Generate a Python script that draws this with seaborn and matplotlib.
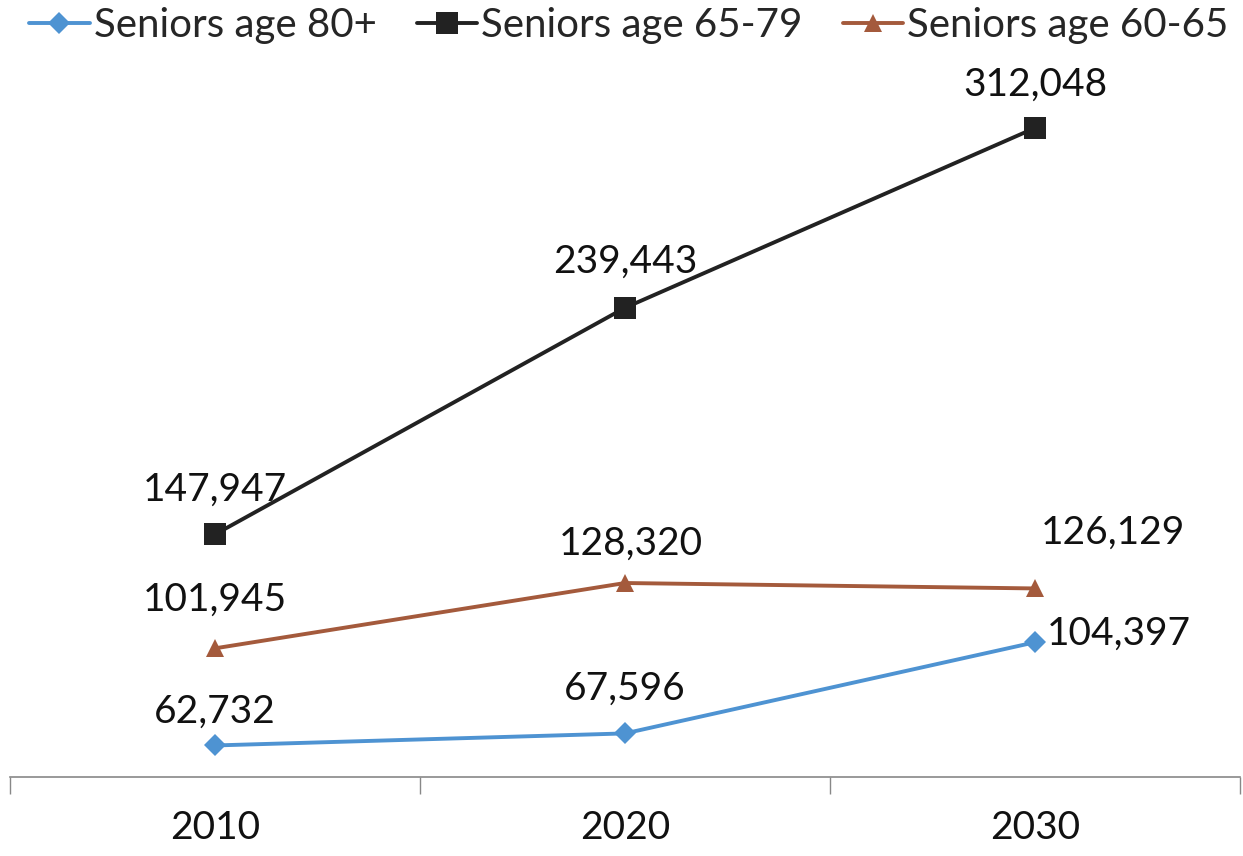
import matplotlib
matplotlib.use("Agg")
import matplotlib.pyplot as plt
import seaborn as sns
import pandas as pd

years = ["2010", "2020", "2030"]
series_names = ["Seniors age 80+", "Seniors age 65-79", "Seniors age 60-65"]
age80 = [62732, 67596, 104397]
age65_79 = [147947, 239443, 312048]
age60_65 = [101945, 128320, 126129]

sns.set_theme(style="white")
plt.rcParams['font.family'] = ['Lato', 'DejaVu Sans']

rows = []
for name, vals in zip(series_names, [age80, age65_79, age60_65]):
    for i, v in enumerate(vals):
        rows.append({"x": i, "year": years[i], "value": v, "series": name})
df = pd.DataFrame(rows)

colors = {"Seniors age 80+": "#4E93D2", "Seniors age 65-79": "#222222", "Seniors age 60-65": "#A45A3C"}
markers = {"Seniors age 80+": "D", "Seniors age 65-79": "s", "Seniors age 60-65": "^"}
msize = {"Seniors age 80+": 11, "Seniors age 65-79": 16, "Seniors age 60-65": 13}

fig = plt.figure(figsize=(12.43, 8.56), dpi=100)
ax = fig.add_axes([0.008, 0.0923, 0.9896, 0.868])

for name in series_names:
    sub = df[df.series == name]
    sns.lineplot(data=sub, x="x", y="value", ax=ax, color=colors[name],
                 marker=markers[name], markersize=msize[name], markeredgewidth=0,
                 linewidth=2.8, label=name)

# data labels: (dx, dy) offsets in points
offsets = {
    "Seniors age 80+": [(0, 24), (0, 32), (60, 6)],
    "Seniors age 65-79": [(0, 32), (0, 33), (0, 31)],
    "Seniors age 60-65": [(0, 35), (4, 28), (56, 40)],
}
for name in series_names:
    sub = df[df.series == name].reset_index(drop=True)
    for i, r in sub.iterrows():
        dx, dy = offsets[name][i]
        ax.annotate(f"{r['value']:,}", (r["x"], r["value"]), xytext=(dx, dy),
                    textcoords="offset points", ha="center", va="center",
                    fontsize=28, color="#111111")

ax.set_xlim(-0.5, 2.5)
ax.set_ylim(50000, 350000)
ax.set_xticks([0, 1, 2])
ax.set_xticklabels(years, fontsize=28, color="#111111")
ax.set_xticks([-0.5, 0.5, 1.5, 2.5], minor=True)
ax.tick_params(axis="x", which="major", length=0, pad=24)
ax.tick_params(axis="x", which="minor", length=12, width=1, color="#888888", direction="out", bottom=True)
ax.set_yticks([])
ax.set_xlabel("")
ax.set_ylabel("")
for s in ["top", "right", "left"]:
    ax.spines[s].set_visible(False)
ax.spines["bottom"].set_color("#888888")
ax.spines["bottom"].set_linewidth(1.2)

handles, labels = ax.get_legend_handles_labels()
ax.get_legend().remove()
fig.legend(handles, labels, loc="center", bbox_to_anchor=(0.506, 0.970), ncol=3, frameon=False,
           fontsize=29, handlelength=1.5, handletextpad=0.1, columnspacing=1.0,
           borderaxespad=0, borderpad=0)

fig.savefig("out.png", dpi=100)
